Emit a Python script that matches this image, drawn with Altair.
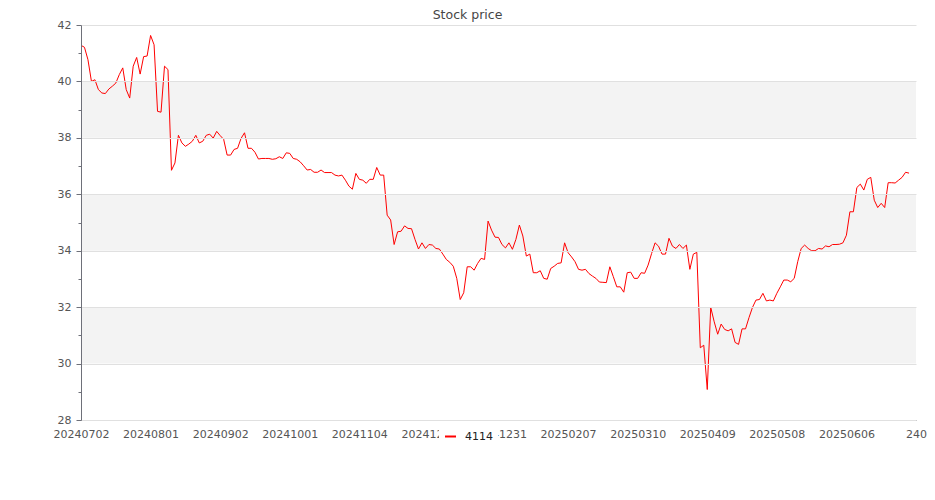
import altair as alt
import pandas as pd

# ---- data ----
series_name = "4114"
tick_labels = ["20240702", "20240801", "20240902", "20241001", "20241104",
               "20241202", "20241231", "20250207", "20250310", "20250409",
               "20250508", "20250606", "240"]
tick_step = 20
n_categories = 241

prices = [
    41.28, 41.21, 40.77, 40.00, 40.06, 39.71, 39.59, 39.57, 39.73, 39.83,
    39.94, 40.24, 40.48, 39.71, 39.41, 40.54, 40.85, 40.26, 40.88, 40.90,
    41.63, 41.30, 38.94, 38.91, 40.54, 40.42, 36.85, 37.11, 38.09, 37.82,
    37.70, 37.78, 37.88, 38.09, 37.82, 37.88, 38.09, 38.13, 37.99, 38.23,
    38.08, 37.95, 37.39, 37.39, 37.59, 37.63, 37.98, 38.18, 37.63, 37.63,
    37.49, 37.25, 37.27, 37.27, 37.27, 37.24, 37.26, 37.33, 37.27, 37.47,
    37.45, 37.27, 37.24, 37.15, 37.01, 36.86, 36.88, 36.78, 36.78, 36.86,
    36.77, 36.77, 36.77, 36.68, 36.65, 36.68, 36.50, 36.29, 36.18, 36.74,
    36.53, 36.50, 36.39, 36.53, 36.53, 36.95, 36.68, 36.68, 35.26, 35.09,
    34.22, 34.67, 34.69, 34.88, 34.79, 34.78, 34.40, 34.06, 34.28, 34.08,
    34.22, 34.20, 34.08, 34.06, 33.88, 33.69, 33.59, 33.45, 33.02, 32.27,
    32.51, 33.43, 33.43, 33.31, 33.55, 33.73, 33.69, 35.05, 34.73, 34.48,
    34.47, 34.22, 34.10, 34.28, 34.05, 34.40, 34.91, 34.52, 33.81, 33.88,
    33.22, 33.22, 33.29, 33.02, 32.99, 33.37, 33.45, 33.55, 33.57, 34.28,
    33.93, 33.78, 33.61, 33.34, 33.31, 33.34, 33.19, 33.10, 33.02, 32.89,
    32.88, 32.87, 33.43, 33.08, 32.72, 32.72, 32.53, 33.22, 33.24, 33.02,
    33.02, 33.22, 33.20, 33.49, 33.90, 34.28, 34.16, 33.88, 33.88, 34.44,
    34.16, 34.08, 34.22, 34.08, 34.20, 33.34, 33.88, 33.94, 30.56, 30.65,
    29.08, 31.99, 31.48, 31.04, 31.40, 31.21, 31.16, 31.23, 30.75, 30.68,
    31.23, 31.23, 31.63, 31.99, 32.25, 32.27, 32.49, 32.22, 32.25, 32.22,
    32.49, 32.72, 32.96, 32.96, 32.90, 33.02, 33.61, 34.08, 34.20, 34.08,
    34.00, 34.00, 34.08, 34.06, 34.17, 34.14, 34.22, 34.22, 34.23, 34.28,
    34.55, 35.38, 35.38, 36.24, 36.36, 36.15, 36.53, 36.60, 35.79, 35.53,
    35.68, 35.53, 36.41, 36.41, 36.40, 36.50, 36.60, 36.78, 36.75,
]

y_ticks = [28, 30, 32, 34, 36, 38, 40, 42]
y_minor = [29, 31, 33, 35, 37, 39, 41]
band_lo = [30, 34, 38]
band_hi = [32, 36, 40]

# ---- tables ----
df = pd.DataFrame({"idx": list(range(len(prices))), "price": prices,
                   "series": [series_name] * len(prices)})
bands = pd.DataFrame({"lo": band_lo, "hi": band_hi})

tick_values = [i * tick_step for i in range(len(tick_labels))]
label_expr = ("[" + ",".join(f"'{t}'" for t in tick_labels) + "]"
              f"[round(datum.value/{tick_step})]")

FONT = "DejaVu Sans"
AXIS_GRAY = "#6E7079"

x_scale = alt.Scale(domain=[0, n_categories - 1], nice=False, zero=False)
y_scale = alt.Scale(domain=[28, 42], nice=False, zero=False)

band_layer = alt.Chart(bands).mark_rect(color="#f3f3f3").encode(
    y=alt.Y("lo:Q", scale=y_scale,
            axis=alt.Axis(values=y_minor, labels=False, domain=False,
                          grid=False, ticks=True, tickSize=3,
                          tickColor=AXIS_GRAY, title=None, orient="left")),
    y2="hi:Q",
)

line_layer = alt.Chart(df).mark_line(strokeWidth=1).encode(
    x=alt.X("idx:Q", scale=x_scale,
            axis=alt.Axis(values=tick_values, labelExpr=label_expr,
                          ticks=False, grid=False, title=None,
                          domainColor=AXIS_GRAY, labelColor="#555555",
                          labelFont=FONT, labelFontSize=11, labelPadding=8,
                          labelFlush=False, labelOverlap=False,
                          labelBound=False)),
    y=alt.Y("price:Q", scale=y_scale,
            axis=alt.Axis(values=y_ticks, title=None, grid=True,
                          gridColor="#e0e0e0", domainColor=AXIS_GRAY,
                          tickColor=AXIS_GRAY, tickSize=5, labelPadding=5,
                          labelColor="#555555", labelFont=FONT,
                          labelFontSize=11, zindex=1, orient="left")),
    color=alt.Color("series:N",
                    scale=alt.Scale(domain=[series_name], range=["#ff0000"]),
                    legend=alt.Legend(title=None, orient="none",
                                      legendX=358, legendY=400,
                                      direction="horizontal",
                                      symbolType="stroke",
                                      symbolStrokeWidth=2, symbolSize=121,
                                      labelFont=FONT, labelFontSize=11,
                                      labelColor="#222222", labelOffset=8,
                                      fillColor="white", padding=5,
                                      zindex=2)),
)

chart = alt.layer(band_layer, line_layer).resolve_axis(
    y="independent"
).properties(
    width=835,
    height=395,
    autosize=alt.AutoSizeParams(type="none"),
    padding={"left": 73, "top": 17, "right": 11, "bottom": 50},
    title=alt.TitleParams("Stock price", font=FONT, fontSize=12.5,
                          fontWeight="normal", color="#464646",
                          anchor="middle", dx=-31, offset=-2),
).configure_view(stroke=None)

chart.save("out.html", embed_options={"renderer": "svg", "actions": False})
